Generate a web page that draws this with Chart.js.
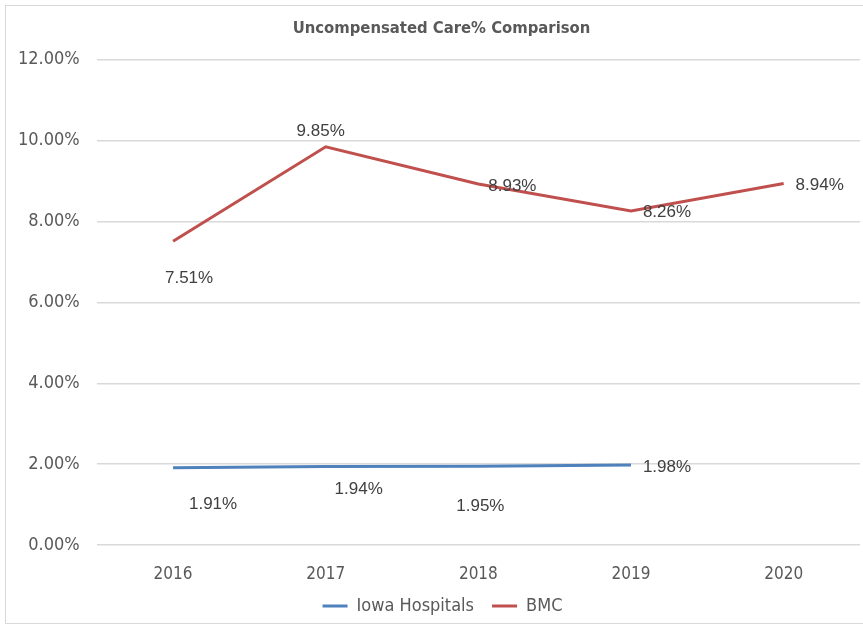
<!DOCTYPE html>
<html>
<head>
<meta charset="utf-8">
<script src="https://cdn.jsdelivr.net/npm/chart.js@4"></script>
<style>
  html, body { margin: 0; padding: 0; background: #fff; overflow: hidden; }
  #wrap { position: absolute; left: 0; top: 0; width: 863px; height: 629px; overflow: hidden; }
  #frame { position: absolute; left: 5px; top: 5px; width: 870px; height: 619px; border: 1px solid #d9d9d9; box-sizing: border-box; }
  canvas { position: absolute; left: 0; top: 0; }
</style>
</head>
<body>
<div id="wrap">
  <div id="frame"></div>
  <canvas id="c" width="863" height="629"></canvas>
</div>
<script>
const categories = ['2016', '2017', '2018', '2019', '2020'];
const iowaHospitals = [1.91, 1.94, 1.95, 1.98, null];
const bmc = [7.51, 9.85, 8.93, 8.26, 8.94];
const seriesNames = ['Iowa Hospitals', 'BMC'];
const titleText = 'Uncompensated Care% Comparison';

// label offsets (dx, dy) in px relative to each point — styling only
const labelOffsets = [
  [[40, 37], [33, 23], [2, 40], [36, 2], [0, 0]],
  [[16, 37], [-5, -15], [34, 2], [36, 1], [36, 2]]
];

const narrow = '"Liberation Sans Narrow", "DejaVu Sans Condensed", sans-serif';

const labelPlugin = {
  id: 'pointLabels',
  afterDatasetsDraw(chart) {
    const ctx = chart.ctx;
    ctx.save();
    ctx.font = '17px "Liberation Sans", "Open Sans", sans-serif';
    ctx.fillStyle = '#404040';
    ctx.textAlign = 'center';
    ctx.textBaseline = 'middle';
    chart.data.datasets.forEach((ds, di) => {
      const meta = chart.getDatasetMeta(di);
      meta.data.forEach((pt, i) => {
        const v = ds.data[i];
        if (v === null || v === undefined) return;
        const off = labelOffsets[di][i];
        ctx.fillText(v.toFixed(2) + '%', pt.x + off[0], pt.y + off[1]);
      });
    });
    ctx.restore();
  }
};

// shift title and legend boxes to the right (the original's frame is wider than the picture)
const shiftPlugin = {
  id: 'shiftBoxes',
  afterLayout(chart) {
    if (chart.titleBlock) { chart.titleBlock.left += 11; chart.titleBlock.right += 11; }
    if (chart.legend) { chart.legend.left += 12; chart.legend.right += 12; }
  }
};

new Chart(document.getElementById('c'), {
  type: 'line',
  data: {
    labels: categories,
    datasets: [
      { label: seriesNames[0], data: iowaHospitals, borderColor: '#4F81BD', backgroundColor: '#4F81BD', borderWidth: 3, pointRadius: 0, tension: 0, spanGaps: false },
      { label: seriesNames[1], data: bmc, borderColor: '#C0504D', backgroundColor: '#C0504D', borderWidth: 3, pointRadius: 0, tension: 0 }
    ]
  },
  options: {
    responsive: false,
    animation: false,
    layout: { padding: { left: 1, right: 3, top: 8, bottom: 4 } },
    plugins: {
      title: {
        display: true,
        text: titleText,
        color: '#595959',
        font: { family: narrow, size: 16.5, weight: 'bold' },
        padding: { top: 11, bottom: 21 }
      },
      legend: {
        position: 'bottom',
        labels: {
          usePointStyle: true,
          pointStyle: 'line',
          pointStyleWidth: 25,
          boxWidth: 25,
          color: '#595959',
          font: { family: narrow, size: 18 },
          padding: 18
        }
      },
      tooltip: { enabled: false }
    },
    scales: {
      x: {
        offset: true,
        grid: { display: false, drawTicks: false },
        border: { display: false },
        ticks: { color: '#595959', font: { family: narrow, size: 17 }, padding: 19 },
        afterFit(scale) { scale.height = 34; }
      },
      y: {
        min: 0,
        max: 12,
        grid: { color: '#d9d9d9', lineWidth: 1.5, drawTicks: false },
        border: { display: false },
        ticks: {
          stepSize: 2,
          color: '#595959',
          font: { family: narrow, size: 18 },
          padding: 17,
          callback: v => v.toFixed(2) + '%'
        }
      }
    }
  },
  plugins: [labelPlugin, shiftPlugin]
});
</script>
</body>
</html>
